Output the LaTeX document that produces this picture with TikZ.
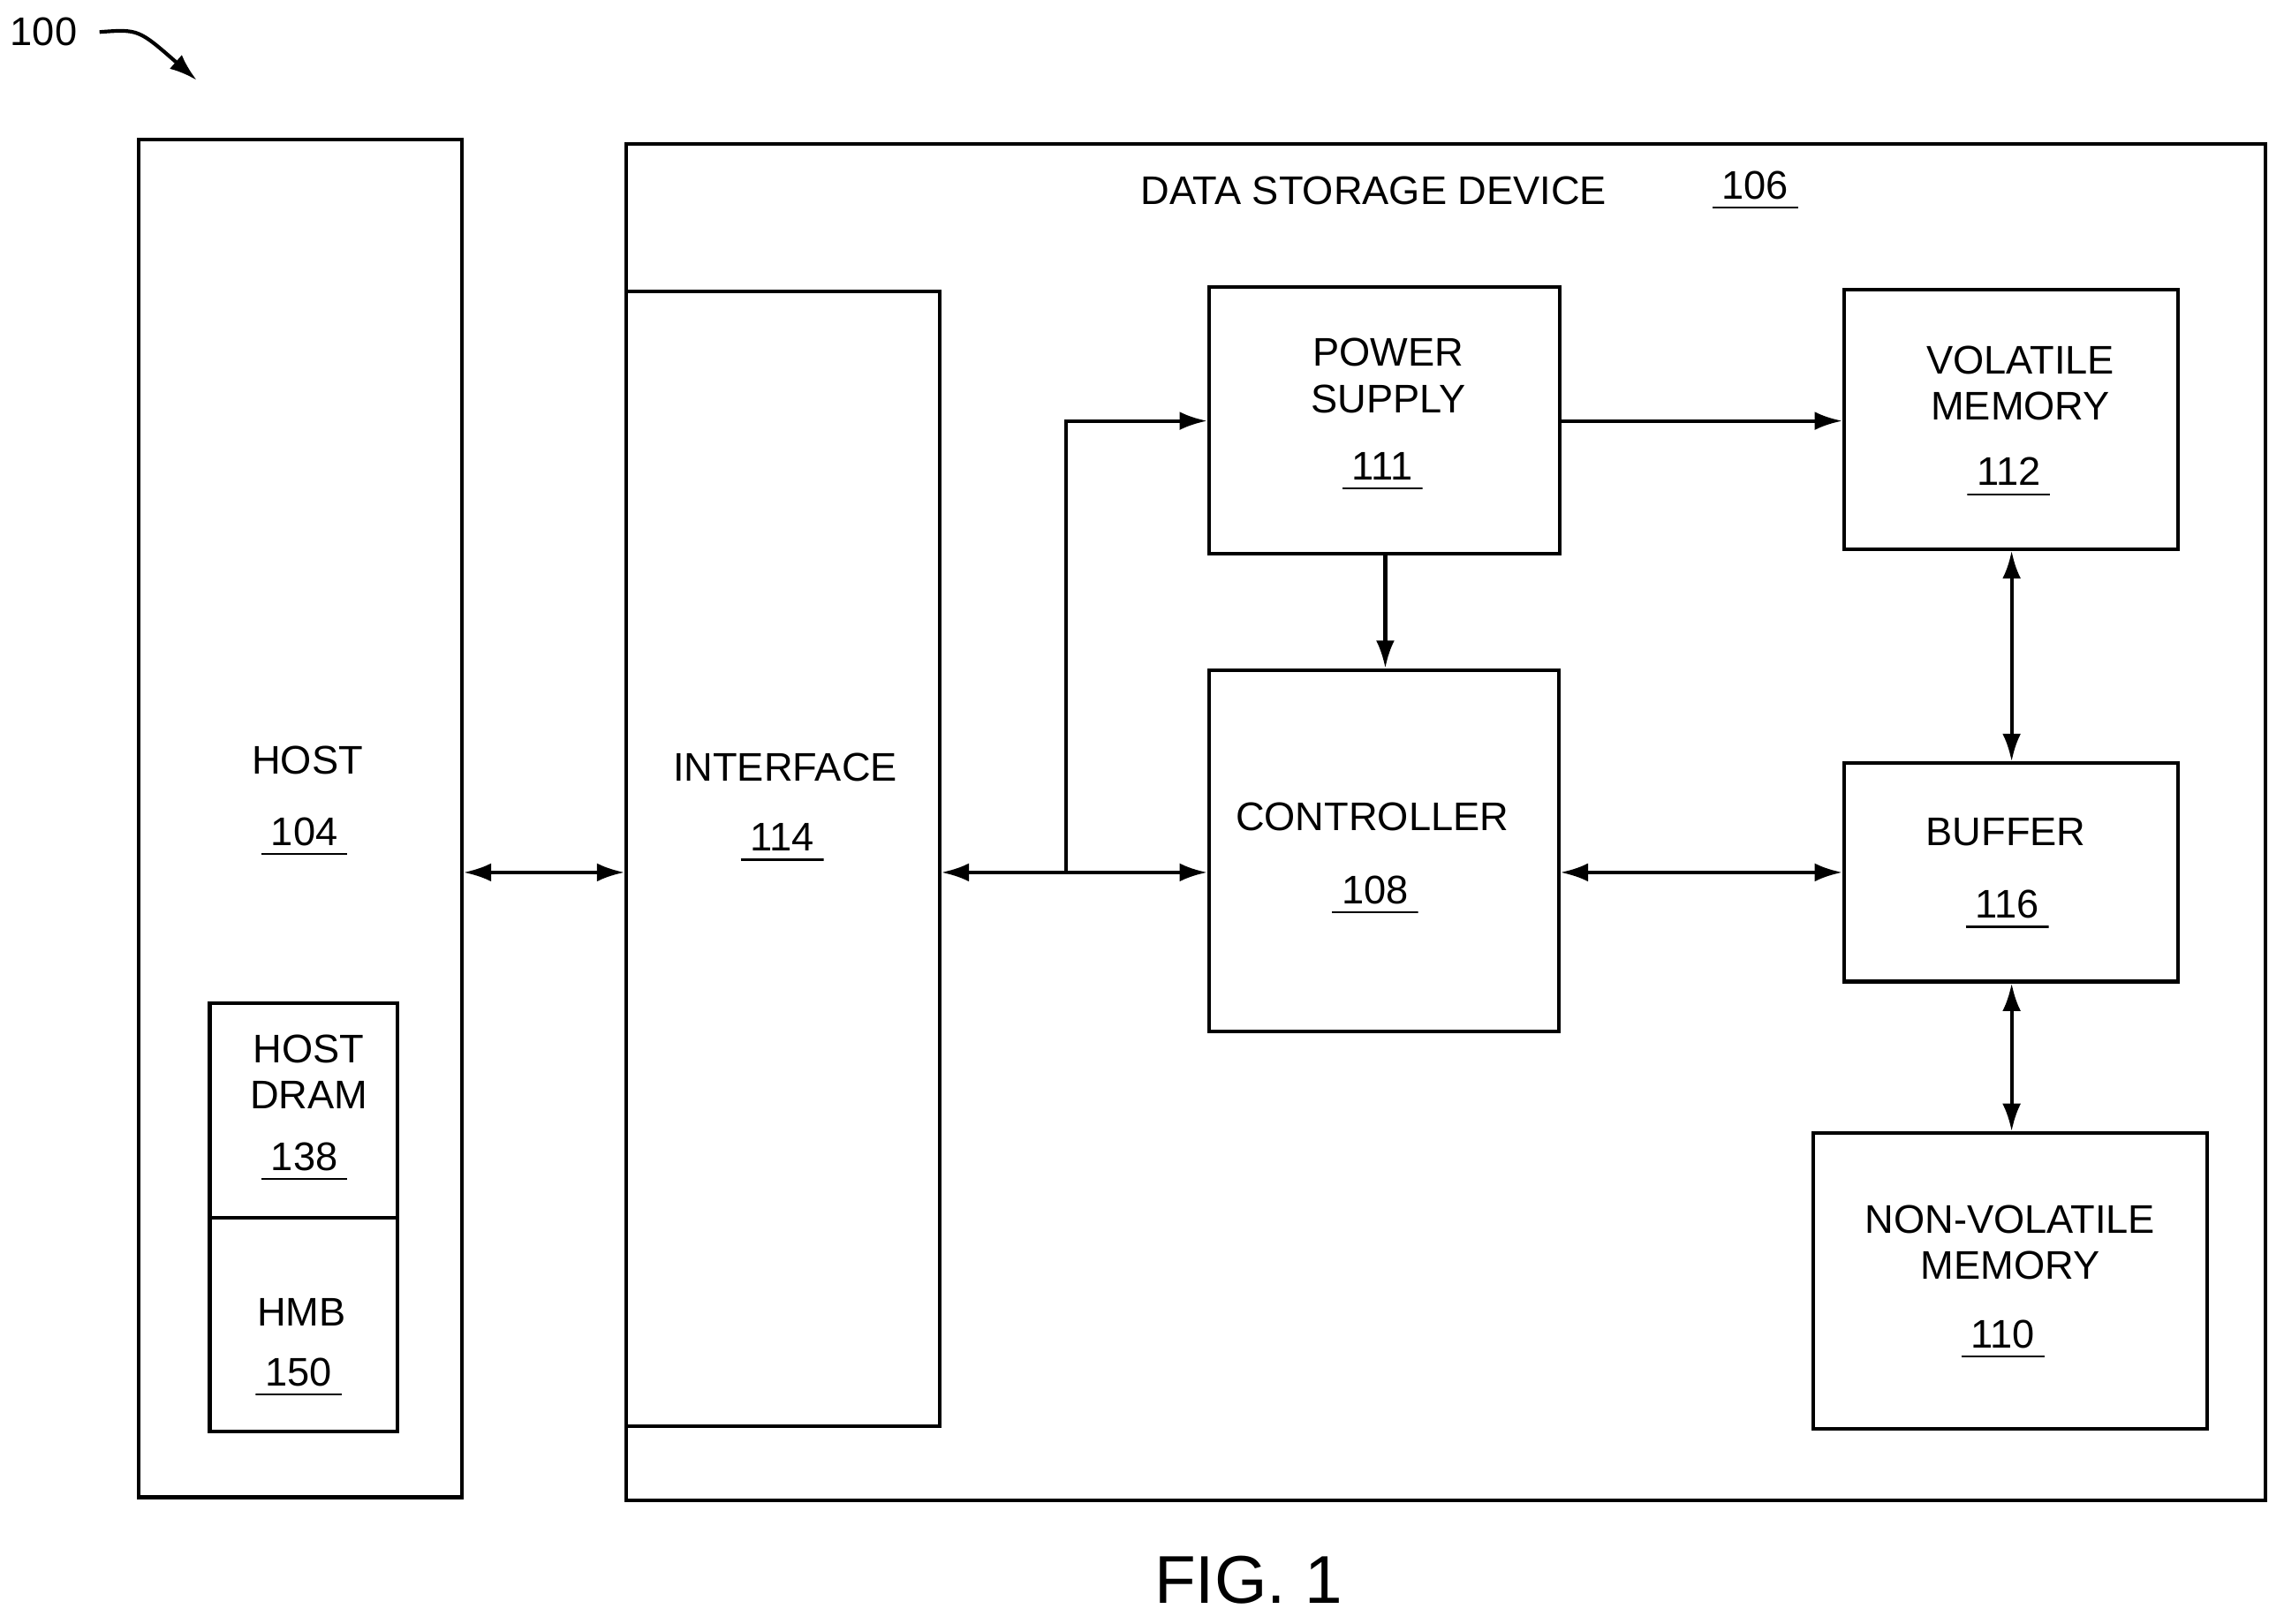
\documentclass[tikz,border=0pt]{standalone}
\usepackage{fontspec}
\setmainfont{Liberation Sans}
\usetikzlibrary{arrows.meta,fit}
\tikzset{
  box/.style={draw, line width=1.2pt, inner sep=0pt},
  lbl/.style={align=center, font=\fontsize{13}{16}\selectfont},
  num/.style={lbl, inner sep=1pt, text depth=2pt, path picture={\draw[line width=1pt] (path picture bounding box.south west) -- (path picture bounding box.south east);}},
  arr/.style={line width=1.2pt, -{Latex[length=9pt,width=6pt]}},
  darr/.style={line width=1.2pt, {Latex[length=9pt,width=6pt]}-{Latex[length=9pt,width=6pt]}}
}
\begin{document}
\begin{tikzpicture}[x=1cm/60, y=-1cm/60]
  \useasboundingbox (0,0) rectangle (1568,1115);

  % outer boxes
  \node[box, fit={(95,96) (317,1028)}] (host) {};
  \node[box, fit={(430,99) (1555,1030)}] (dsd) {};
  \node[box, fit={(144,689) (273,836)}] (dram) {};
  \node[box, fit={(144,836) (273,983)}] (hmb) {};

  % inner blocks
  \node[box, fit={(430,200) (645,979)}] (iface) {};
  \node[box, fit={(830,197) (1071,380)}] (power) {};
  \node[box, fit={(830,460) (1070,708)}] (ctrl) {};
  \node[box, fit={(1266,199) (1495,377)}] (vol) {};
  \node[box, fit={(1266,524) (1495,674)}] (buf) {};
  \node[box, fit={(1245,778) (1515,981)}] (nvm) {};

  % labels
  \node[lbl] at (211,522) {HOST};
  \node[num] at (209,573) {\,104\,};
  \node[lbl] at (212,736) {HOST\\[-1pt]DRAM};
  \node[num] at (209,796) {\,138\,};
  \node[lbl] at (207,901) {HMB};
  \node[num] at (205,944) {\,150\,};
  \node[lbl] at (943,131) {DATA STORAGE DEVICE};
  \node[num] at (1205,129) {\,106\,};
  \node[lbl] at (539,527) {INTERFACE};
  \node[num] at (537,577) {\,114\,};
  \node[lbl] at (953,258) {POWER\\[-1pt]SUPPLY};
  \node[num] at (949,322) {\,111\,};
  \node[lbl] at (942,561) {CONTROLLER};
  \node[num] at (944,613) {\,108\,};
  \node[lbl] at (1387,263) {VOLATILE\\[-1pt]MEMORY};
  \node[num] at (1379,326) {\,112\,};
  \node[lbl] at (1377,571) {BUFFER};
  \node[num] at (1378,623) {\,116\,};
  \node[lbl] at (1380,853) {NON-VOLATILE\\[-1pt]MEMORY};
  \node[num] at (1375,918) {\,110\,};
  \node[lbl, font=\fontsize{22}{26}\selectfont] (fig) at (857,1085) {FIG. 1};

  % reference arrow
  \node[lbl] (ref) at (30,22) {100};
  \coordinate (refend) at (135,55);
  \draw[arr] (ref.east) ++(8,0) .. controls (95,20) .. (refend);

  % connectors
  \coordinate (bus) at (0,599);
  \coordinate (tap) at (732,599);
  \draw[darr] (host.east |- bus) -- (iface.west |- bus);
  \draw[darr] (iface.east |- bus) -- (ctrl.west |- bus);
  \draw[arr] (tap) |- (power.west |- 0,289);
  \draw[arr] (power.east |- 0,289) -- (vol.west |- 0,289);
  \draw[arr] (power.south -| 951,0) -- (ctrl.north -| 951,0);
  \draw[darr] (ctrl.east |- bus) -- (buf.west |- bus);
  \draw[darr] (vol.south -| 1381,0) -- (buf.north -| 1381,0);
  \draw[darr] (buf.south -| 1381,0) -- (nvm.north -| 1381,0);
\end{tikzpicture}
\end{document}
